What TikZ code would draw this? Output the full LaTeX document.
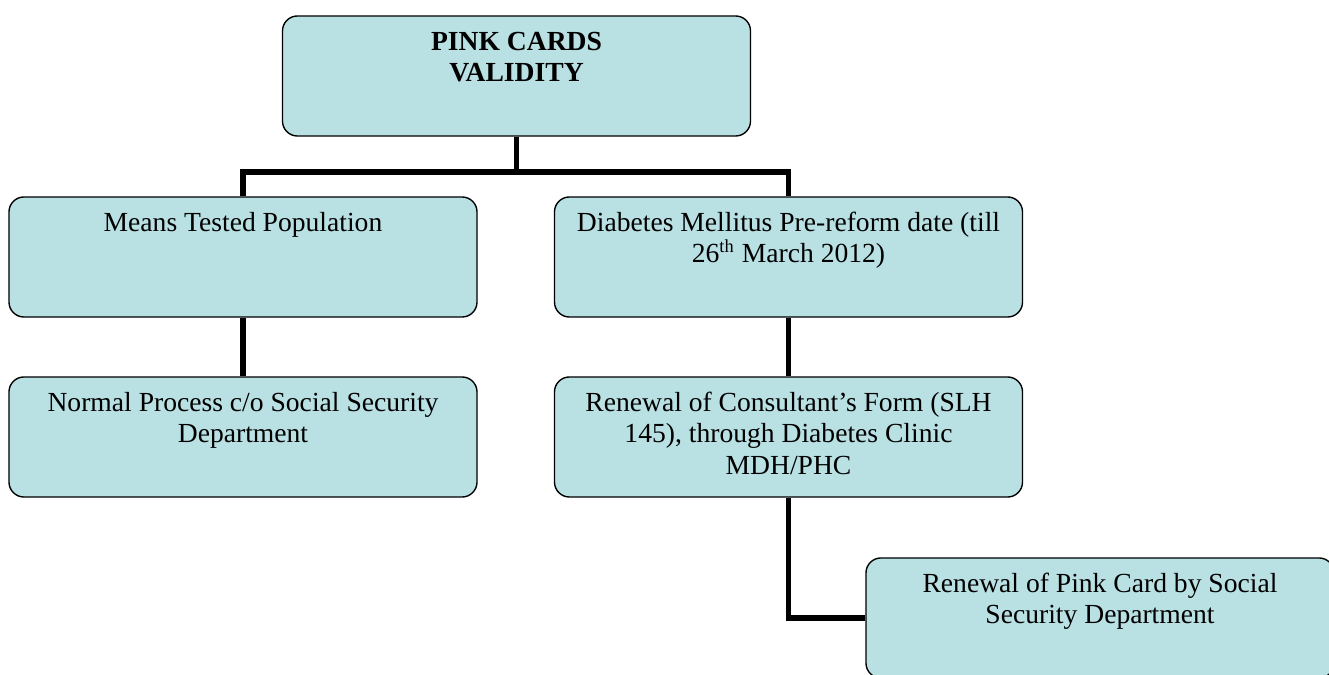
\documentclass[tikz,border=0pt]{standalone}
\usepackage{fontspec}
\setmainfont{Liberation Serif}
\definecolor{cardblue}{RGB}{185,224,227}
\newcommand{\cardtext}[1]{\parbox[c][52.2pt][t]{200pt}{\fontsize{12}{13.9}\selectfont\centering\rule{0pt}{14.8pt}#1}}

\begin{document}
\begin{tikzpicture}[x=0.4348pt, y=-0.4348pt]
  \tikzstyle{card}=[draw, rounded corners=6.5pt, line width=0.6pt, fill=cardblue, inner sep=0pt, minimum width=203.5pt, minimum height=52.2pt]
  \tikzstyle{link}=[line width=2.6pt]

  \useasboundingbox (0,0) rectangle (1329,675);

  \node[card] (valid)    at (516.5, 76)  {\cardtext{\textbf{PINK CARDS\\VALIDITY}}};
  \node[card] (means)    at (243,   257) {\cardtext{Means Tested Population}};
  \node[card] (normal)   at (243,   437) {\cardtext{Normal Process c/o Social Security\\Department}};
  \node[card] (diabetes) at (788.5, 257) {\cardtext{Diabetes Mellitus Pre-reform date (till\\26\textsuperscript{th} March 2012)}};
  \node[card] (consult)  at (788.5, 437) {\cardtext{Renewal of Consultant's Form (SLH\\145), through Diabetes Clinic\\MDH/PHC}};
  \node[card] (renew)    at (1100,  618) {\cardtext{Renewal of Pink Card by Social\\Security Department}};

  \coordinate (bar) at (516.5, 172);
  \draw[link] (valid) -- (bar);
  \draw[link] (means.north) |- (bar) -| (diabetes.north);
  \draw[link] (means) -- (normal);
  \draw[link] (diabetes) -- (consult);
  \draw[link] (consult.south) |- (renew.west);
\end{tikzpicture}
\end{document}
